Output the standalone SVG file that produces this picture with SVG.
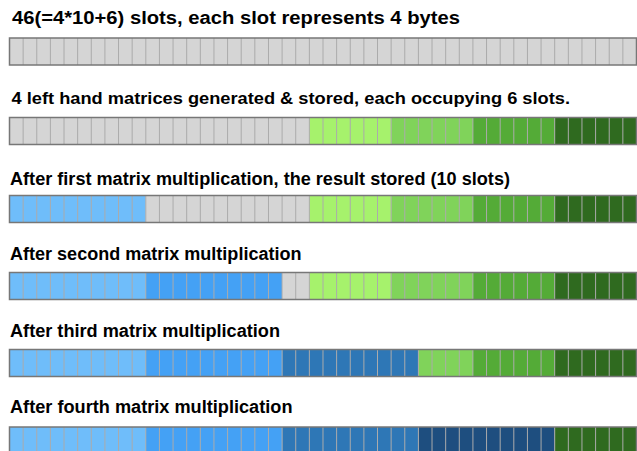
<svg xmlns="http://www.w3.org/2000/svg" xmlns:xlink="http://www.w3.org/1999/xlink" width="637" height="451" viewBox="0 0 637 451">
<style>
text{font-family:"Liberation Sans",Arial,sans-serif;font-weight:bold;fill:#000}
.t1{font-size:18px}
.t2{font-size:16px}
.gr{fill:#d5d5d5}.lg{fill:#a6f26c}.mg{fill:#80d35a}.g{fill:#54ab37}.dg{fill:#2f6a1f}
.lb{fill:#6fbdfa}.b{fill:#44a1f5}.mb{fill:#2e77b6}.db{fill:#1e4e7f}
.sep{stroke:#ababab;stroke-width:1;fill:none}
.bd{fill:none;stroke:#777;stroke-width:1.5}
</style>
<defs>
<path id="seps" class="sep" d="M23.13 0V27M36.76 0V27M50.39 0V27M64.02 0V27M77.65 0V27M91.28 0V27M104.91 0V27M118.54 0V27M132.17 0V27M145.8 0V27M159.43 0V27M173.06 0V27M186.69 0V27M200.32 0V27M213.95 0V27M227.58 0V27M241.21 0V27M254.84 0V27M268.47 0V27M282.1 0V27M295.73 0V27M309.36 0V27M322.99 0V27M336.62 0V27M350.25 0V27M363.88 0V27M377.51 0V27M391.14 0V27M404.77 0V27M418.4 0V27M432.03 0V27M445.66 0V27M459.29 0V27M472.92 0V27M486.55 0V27M500.18 0V27M513.81 0V27M527.44 0V27M541.07 0V27M554.7 0V27M568.33 0V27M581.96 0V27M595.59 0V27M609.22 0V27M622.85 0V27"/>
<g id="greens">
<rect class="lg" x="309.36" y="0" width="81.78" height="27"/>
<rect class="mg" x="391.14" y="0" width="81.78" height="27"/>
<rect class="g" x="472.92" y="0" width="81.78" height="27"/>
<rect class="dg" x="554.7" y="0" width="81.78" height="27"/>
</g>
<rect id="border" class="bd" x="9.5" y="0" width="627" height="27"/>
</defs>

<g id="row1">
<text class="t1" x="12" y="24" textLength="448" lengthAdjust="spacingAndGlyphs">46(=4*10+6) slots, each slot represents 4 bytes</text>
<g transform="translate(0,38)">
<rect class="gr" x="9.5" y="0" width="627" height="27"/>
<use xlink:href="#seps"/>
<use xlink:href="#border"/>
</g>
</g>

<g id="row2">
<text class="t2" x="11.5" y="103.5" textLength="558.5" lengthAdjust="spacingAndGlyphs">4 left hand matrices generated &amp; stored, each occupying 6 slots.</text>
<g transform="translate(0,117.5)">
<rect class="gr" x="9.5" y="0" width="299.86" height="27"/>
<use xlink:href="#greens"/>
<use xlink:href="#seps"/>
<use xlink:href="#border"/>
</g>
</g>

<g id="row3">
<text class="t1" x="10" y="184.5" textLength="500" lengthAdjust="spacingAndGlyphs">After first matrix multiplication, the result stored (10 slots)</text>
<g transform="translate(0,195.5)">
<rect class="lb" x="9.5" y="0" width="136.3" height="27"/>
<rect class="gr" x="145.8" y="0" width="163.56" height="27"/>
<use xlink:href="#greens"/>
<use xlink:href="#seps"/>
<use xlink:href="#border"/>
</g>
</g>

<g id="row4">
<text class="t1" x="10" y="259.5" textLength="291.5" lengthAdjust="spacingAndGlyphs">After second matrix multiplication</text>
<g transform="translate(0,272.5)">
<rect class="lb" x="9.5" y="0" width="136.3" height="27"/>
<rect class="b" x="145.8" y="0" width="136.3" height="27"/>
<rect class="gr" x="282.1" y="0" width="27.26" height="27"/>
<use xlink:href="#greens"/>
<use xlink:href="#seps"/>
<use xlink:href="#border"/>
</g>
</g>

<g id="row5">
<text class="t1" x="10" y="336.5" textLength="270" lengthAdjust="spacingAndGlyphs">After third matrix multiplication</text>
<g transform="translate(0,349.5)">
<rect class="lb" x="9.5" y="0" width="136.3" height="27"/>
<rect class="b" x="145.8" y="0" width="136.3" height="27"/>
<rect class="mb" x="282.1" y="0" width="136.3" height="27"/>
<rect class="mg" x="418.4" y="0" width="54.52" height="27"/>
<rect class="g" x="472.92" y="0" width="81.78" height="27"/>
<rect class="dg" x="554.7" y="0" width="81.78" height="27"/>
<use xlink:href="#seps"/>
<use xlink:href="#border"/>
</g>
</g>

<g id="row6">
<text class="t1" x="10" y="412.5" textLength="282.5" lengthAdjust="spacingAndGlyphs">After fourth matrix multiplication</text>
<g transform="translate(0,427)">
<rect class="lb" x="9.5" y="0" width="136.3" height="27"/>
<rect class="b" x="145.8" y="0" width="136.3" height="27"/>
<rect class="mb" x="282.1" y="0" width="136.3" height="27"/>
<rect class="db" x="418.4" y="0" width="136.3" height="27"/>
<rect class="dg" x="554.7" y="0" width="81.78" height="27"/>
<use xlink:href="#seps"/>
<use xlink:href="#border"/>
</g>
</g>
</svg>
